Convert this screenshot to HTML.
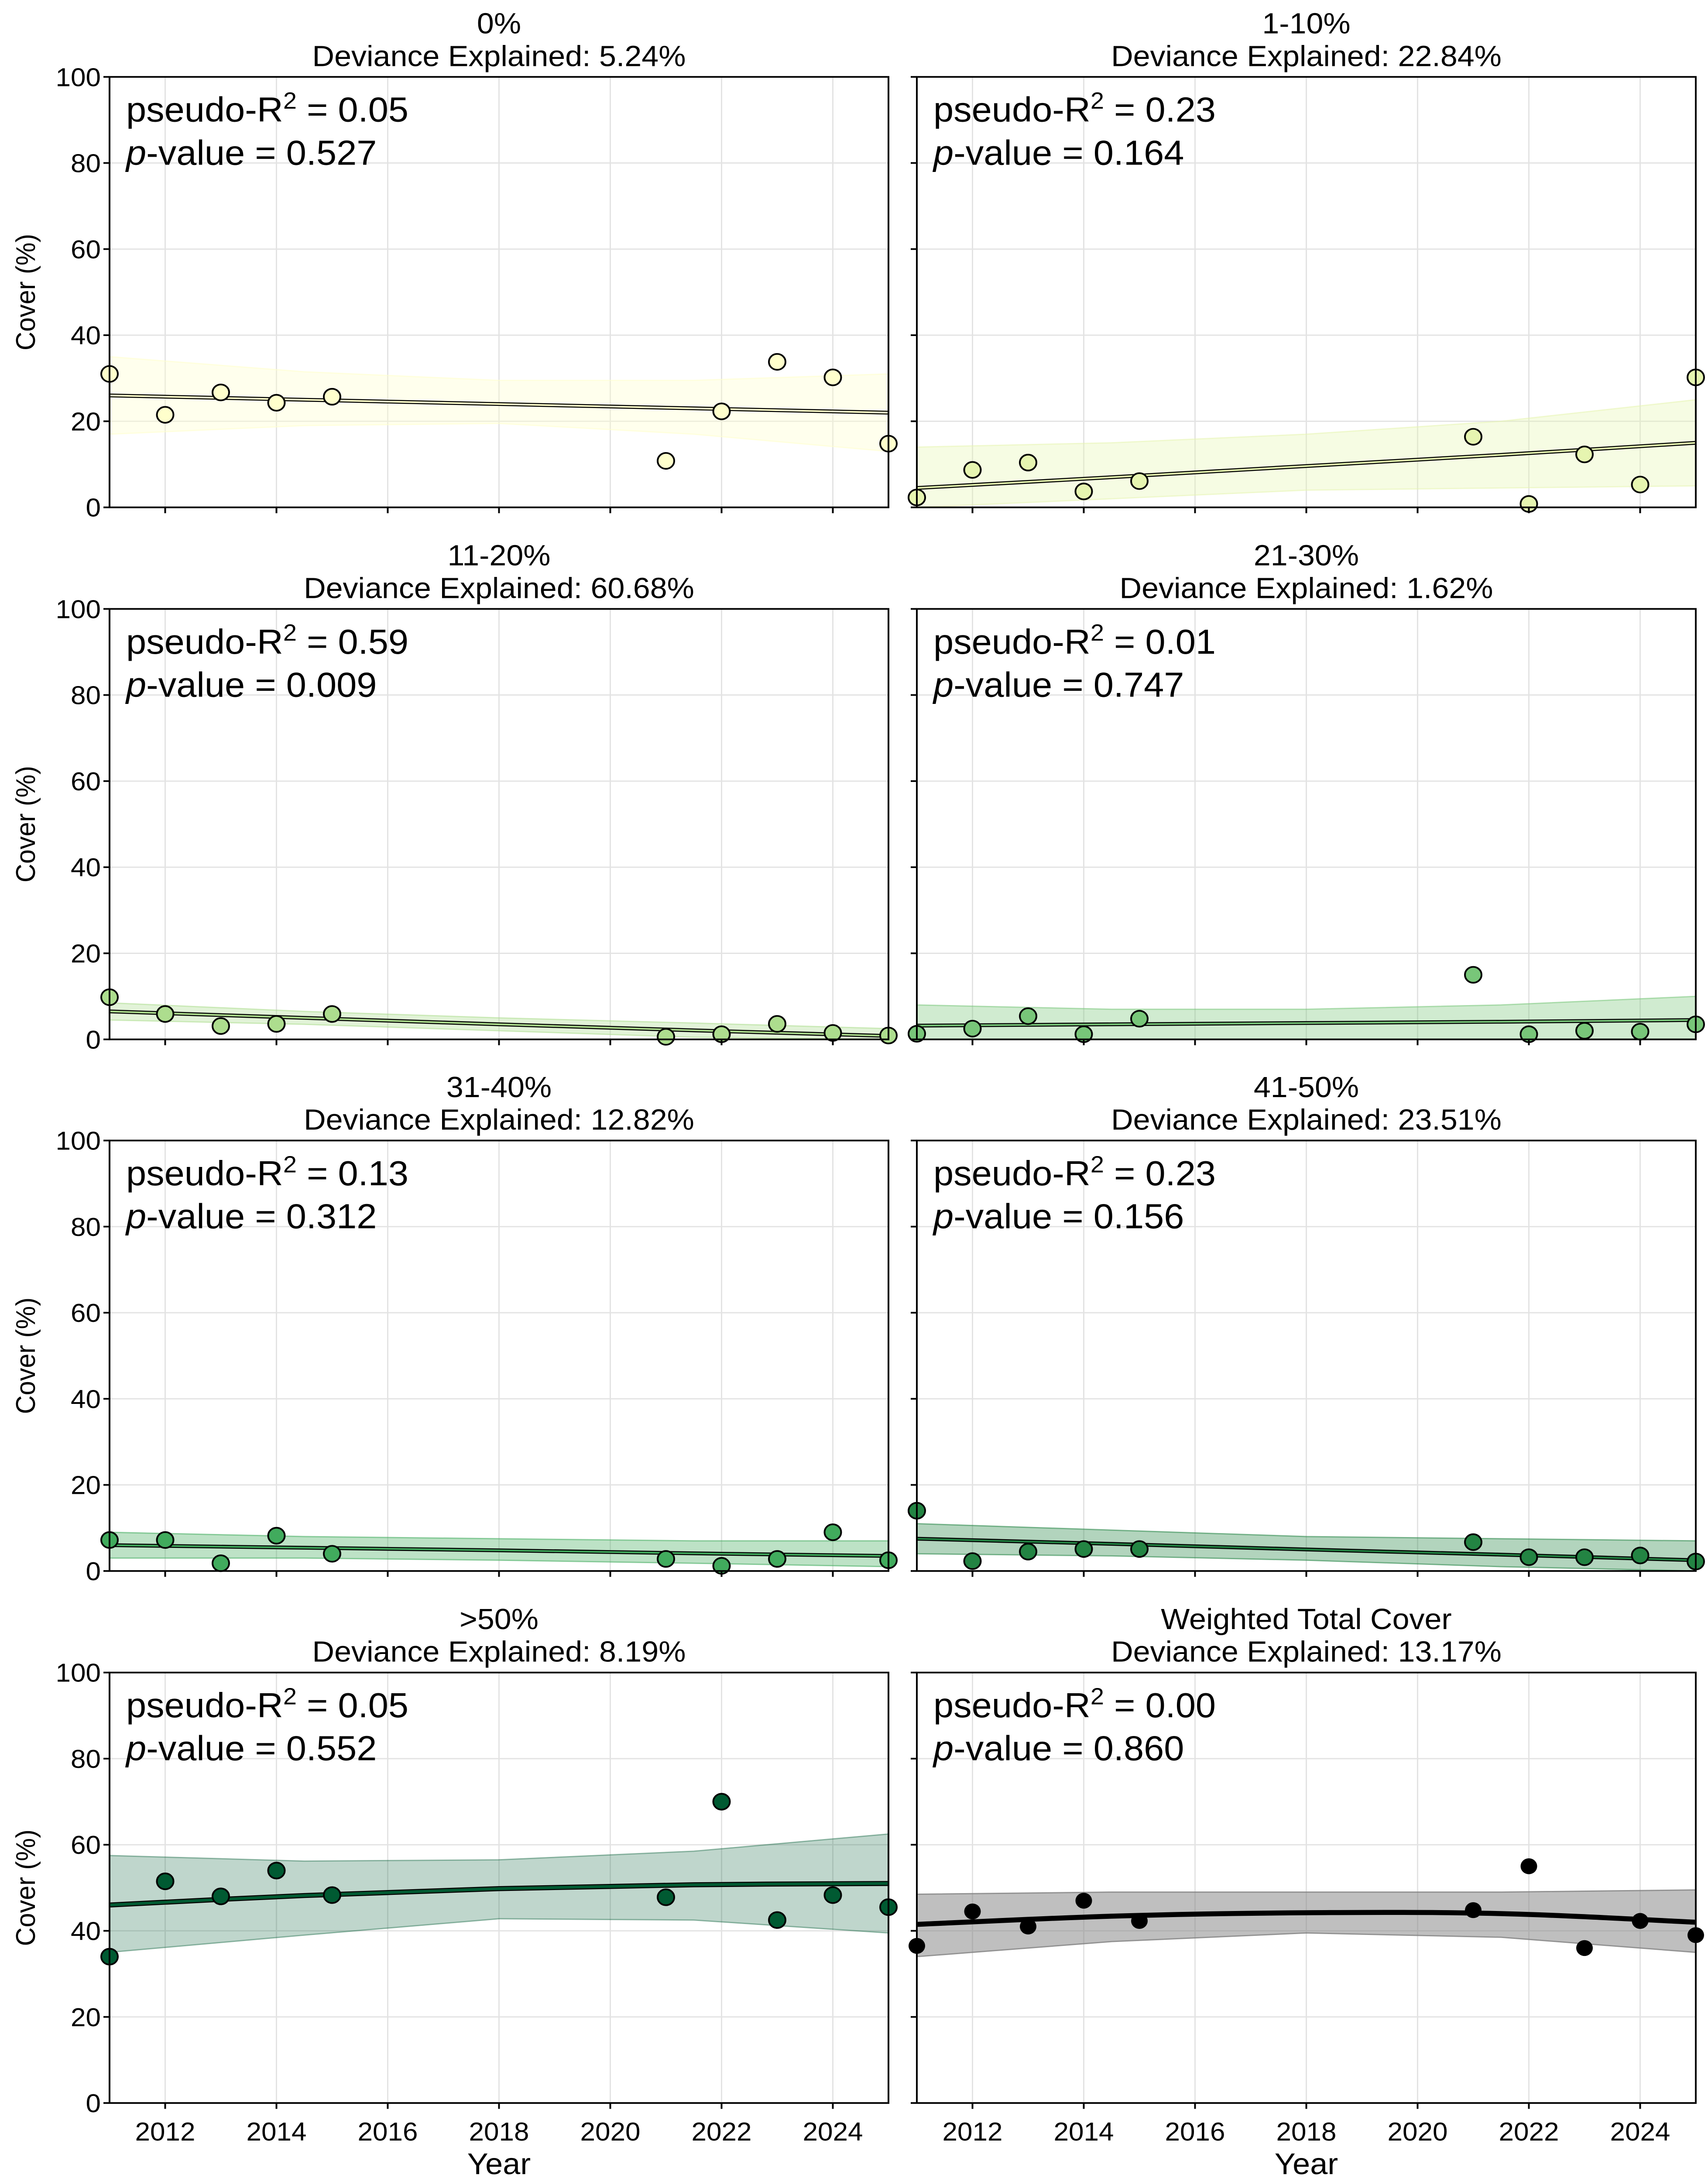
<!DOCTYPE html>
<html><head><meta charset="utf-8">
<style>
html,body{margin:0;padding:0;background:#fff;width:100vw;height:100vh;overflow:hidden;}
svg{position:absolute;left:0;top:0;width:100vw;height:100vh;display:block;font-family:"Liberation Sans",Arial,sans-serif;}
</style></head>
<body>
<svg id="fig" viewBox="0 0 3914 5221" preserveAspectRatio="none" xmlns="http://www.w3.org/2000/svg"></svg>
<script>
const years = [2011,2012,2013,2014,2015,2021,2022,2023,2024,2025];
const fitYears = [2011,2014.5,2018,2021.5,2025];
const panelTitles = ["0%","1-10%","11-20%","21-30%","31-40%","41-50%",">50%","Weighted Total Cover"];
const devExplained = ["5.24%","22.84%","60.68%","1.62%","12.82%","23.51%","8.19%","13.17%"];
const pseudoR2 = ["0.05","0.23","0.59","0.01","0.13","0.23","0.05","0.00"];
const pValues = ["0.527","0.164","0.009","0.747","0.312","0.156","0.552","0.860"];
const seriesValues = [
 [31,21.5,26.7,24.3,25.7,10.8,22.3,33.8,30.2,14.8],
 [2.3,8.7,10.4,3.7,6.1,16.4,0.8,12.3,5.3,30.2],
 [9.8,5.9,3.1,3.6,5.9,0.6,1.2,3.6,1.5,0.9],
 [1.3,2.5,5.4,1.2,4.8,15,1.2,2,1.8,3.5],
 [7.2,7.2,1.8,8.2,4,2.8,1.2,2.8,9,2.5],
 [14,2.3,4.5,5.1,5.1,6.7,3.2,3.2,3.6,2.2],
 [34,51.5,48,54,48.3,47.8,70,42.5,48.3,45.5],
 [36.5,44.5,41,47,42.3,44.8,55,36,42.3,39]
];
const fitValues = [
 [26,25,24,23,22],
 [4.5,7,9.6,12.2,15],
 [6.5,5,3.5,2.1,0.8],
 [3.2,3.5,3.8,4.1,4.5],
 [6,5.4,4.8,4.1,3.5],
 [7.5,6.3,5,3.8,2.5],
 [46,48.2,49.8,50.7,51],
 [41.5,43.4,44.2,44,42]
];
const bandLow = [
 [17,19,19.5,17,13],
 [0,2,4,4.5,5],
 [4.5,3.5,2,0.5,0],
 [0,0,0,0,0],
 [3,3,2.5,1.8,1],
 [4,3.5,2.5,1,0],
 [35,39,42.8,42.5,39.5],
 [34,37.5,39.5,38.5,35]
];
const bandHigh = [
 [35,31.5,29.5,29.5,31],
 [14,15,17,20,25],
 [8.5,6.5,5,3.8,2.5],
 [8,7,7,8,10],
 [9,8,7.5,7,7],
 [11,9.5,8,7.5,7],
 [57.5,56.2,56.5,58.5,62.5],
 [48.5,49,49,49,49.5]
];
const yTicks = [0,20,40,60,80,100];
const xTicks = [2012,2014,2016,2018,2020,2022,2024];

const fill = ["#ffffcc","#e6f5b0","#addd8e","#78c679","#41ab5d","#238443","#005a32","#000000"];
const bandFill = ["#ffffcc","#e6f5b0","#addd8e","#78c679","#41ab5d","#238443","#005a32","#808080"];
const bandOp = [0.35,0.35,0.35,0.35,0.35,0.35,0.25,0.5];

const NS="http://www.w3.org/2000/svg";
const svg=document.getElementById('fig');
function mk(tag,attrs,parent){const e=document.createElementNS(NS,tag);for(const k in attrs)e.setAttribute(k,attrs[k]);(parent||svg).appendChild(e);return e;}

const colX=[251,2101], W=1785, rowY=[184,1457,2729,4002], H=1030;

for(let p=0;p<8;p++){
  const r=Math.floor(p/2), c=p%2;
  const L=colX[c], T=rowY[r];
  const xs=v=>L+(v-2011)/14*W;
  const ys=v=>T+H-(v/100)*H;
  const g=mk('g',{});
  
  
  for(const t of yTicks){ if(t>0&&t<100){const l=mk('line',{x1:L,x2:L+W,y1:ys(t),y2:ys(t),stroke:'#e3e3e3','stroke-width':3},g);} }
  for(const t of xTicks){const l=mk('line',{x1:xs(t),x2:xs(t),y1:T,y2:T+H,stroke:'#e3e3e3','stroke-width':3},g);}
  let d='';
  fitYears.forEach((y,i)=>{d+=(i?'L':'M')+xs(y)+','+ys(bandHigh[p][i]);});
  for(let i=fitYears.length-1;i>=0;i--) d+='L'+xs(fitYears[i])+','+ys(bandLow[p][i]);
  const band=mk('path',{d:d+'Z',fill:bandFill[p],'fill-opacity':bandOp[p],stroke:bandFill[p],'stroke-opacity':Math.min(1,bandOp[p]*1.6),'stroke-width':3},g);
  
  
  const pts=fitYears.map((y,i)=>[xs(y),ys(fitValues[p][i])]);
  let fd='M'+pts[0][0]+','+pts[0][1];
  for(let i=0;i<pts.length-1;i++){
    const p0=pts[Math.max(0,i-1)],p1=pts[i],p2=pts[i+1],p3=pts[Math.min(pts.length-1,i+2)];
    fd+=`C${p1[0]+(p2[0]-p0[0])/6},${p1[1]+(p2[1]-p0[1])/6} ${p2[0]-(p3[0]-p1[0])/6},${p2[1]-(p3[1]-p1[1])/6} ${p2[0]},${p2[1]}`;
  }
  const thick = p>=6;
  const fo=mk('path',{d:fd,fill:'none',stroke:'#000','stroke-width':thick?12:9},g);
  
  
  const fl=mk('path',{d:fd,fill:'none',stroke:fill[p],'stroke-width':thick?7:4},g);
  
  
  years.forEach((y,i)=>{
    const cc=mk('circle',{cx:xs(y),cy:ys(seriesValues[p][i]),r:19,fill:fill[p],stroke:'#000','stroke-width':p==7?0:4},g);
    
    
  });
  const fr=mk('rect',{x:L,y:T,width:W,height:H,fill:'none',stroke:'#000','stroke-width':4},g);
  
  
  for(const t of yTicks){
    const tk=mk('line',{x1:L-14,x2:L,y1:ys(t),y2:ys(t),stroke:'#000','stroke-width':4},g);
    
    
    if(c==0){const tx=mk('text',{x:L-20,y:ys(t)+22,'text-anchor':'end','font-size':62},g);tx.textContent=t;}
  }
  for(const t of xTicks){
    const tk=mk('line',{x1:xs(t),x2:xs(t),y1:T+H,y2:T+H+14,stroke:'#000','stroke-width':4},g);
    
    
    if(r==3){const tx=mk('text',{x:xs(t),y:T+H+90,'text-anchor':'middle','font-size':62},g);tx.textContent=t;}
  }
  if(r==3){const xl=mk('text',{x:L+W/2,y:T+H+170,'text-anchor':'middle','font-size':72},g);xl.textContent='Year';}
  if(c==0){const yl=mk('text',{x:0,y:0,'text-anchor':'middle','font-size':62,transform:`translate(80,${T+H/2}) rotate(-90)`},g);yl.textContent='Cover (%)';}
  const t1=mk('text',{x:L+W/2,y:T-104,'text-anchor':'middle','font-size':70},g);t1.textContent=panelTitles[p];
  
  
  const t2=mk('text',{x:L+W/2,y:T-26,'text-anchor':'middle','font-size':70},g);t2.textContent='Deviance Explained: '+devExplained[p];
  
  
  const a1=mk('text',{x:L+38,y:T+107,'font-size':83},g);
  a1.innerHTML='pseudo-R<tspan dy="-31" font-size="56">2</tspan><tspan dy="31"> = '+pseudoR2[p]+'</tspan>';
  
  
  const a2=mk('text',{x:L+38,y:T+210,'font-size':83},g);
  a2.innerHTML='<tspan font-style="italic">p</tspan>-value = '+pValues[p];
  
  
}
</script>
</body></html>
